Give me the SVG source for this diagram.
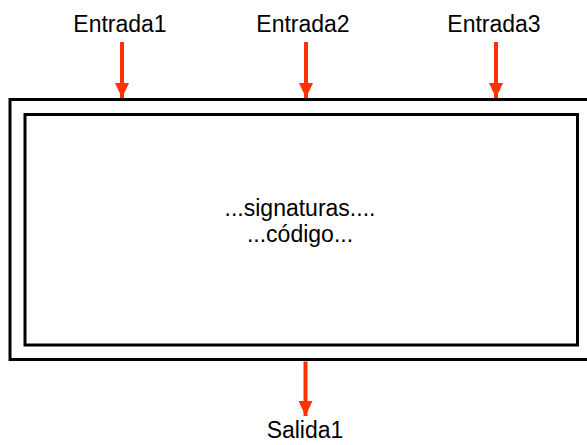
<svg xmlns="http://www.w3.org/2000/svg" width="587" height="445" viewBox="0 0 587 445">
  <style>
    .box { fill: none; stroke: #000; stroke-width: 3; }
    .lbl { font-family: "Liberation Sans", Arial, sans-serif; font-size: 23px; fill: #000; text-anchor: middle; }
    .flow { stroke: #ff3300; stroke-width: 4; fill: none; }
  </style>
  <defs>
    <marker id="head" markerUnits="userSpaceOnUse" markerWidth="15" markerHeight="14" refX="15" refY="7" orient="auto">
      <path d="M0,0 L15,7 L0,14 Z" fill="#ff3300"/>
    </marker>
  </defs>

  <!-- module body: outer frame runs past the right edge -->
  <g id="module">
    <rect class="box" x="10" y="99.5" width="590" height="260"/>
    <rect class="box" x="25" y="114.5" width="552.5" height="230.5"/>
    <text class="lbl" x="300" y="216">...signaturas....</text>
    <text class="lbl" x="300" y="242">...código...</text>
  </g>

  <g id="entrada1"><text class="lbl" x="120" y="32">Entrada1</text></g>
  <g id="entrada2"><text class="lbl" x="303" y="32">Entrada2</text></g>
  <g id="entrada3"><text class="lbl" x="494" y="32">Entrada3</text></g>
  <g id="salida1"><text class="lbl" x="305" y="438">Salida1</text></g>

  <g id="connectors">
    <line class="flow" x1="122" y1="42" x2="122" y2="98" marker-end="url(#head)"/>
    <line class="flow" x1="306" y1="42" x2="306" y2="98" marker-end="url(#head)"/>
    <line class="flow" x1="496" y1="42" x2="496" y2="98" marker-end="url(#head)"/>
    <line class="flow" x1="305.5" y1="361.5" x2="305.5" y2="416" marker-end="url(#head)"/>
  </g>
</svg>
